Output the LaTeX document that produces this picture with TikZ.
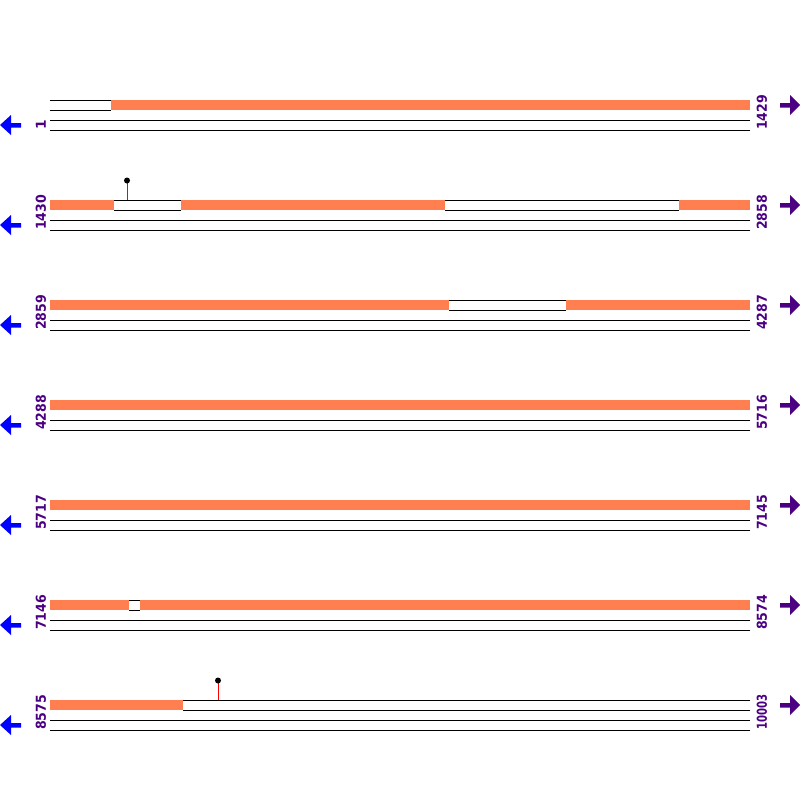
\documentclass[tikz,border=0pt]{standalone}
\usepackage{fontspec}
\setmainfont{DejaVu Sans}
\definecolor{seg}{HTML}{FF7F50}
\definecolor{lab}{HTML}{4B0082}
\definecolor{larr}{HTML}{0000FF}
\newcommand{\fitlab}[1]{\resizebox{35pt}{\height}{#1}}
\begin{document}
\begin{tikzpicture}[x=1pt,y=-1pt,
  orangebar/.style={fill=seg,draw=none},
  strand/.style={draw=black,line width=1pt},
  lbl/.style={rotate=90,anchor=west,text=lab,inner sep=0pt,font=\bfseries\fontsize{13.7}{13.7}\selectfont},
  leftarrow/.style={fill=larr,draw=none},
  rightarrow/.style={fill=lab,draw=none},
  stem/.style={draw=red,line width=0.9pt},
  pin/.style={fill=black,draw=none}]
\useasboundingbox (0,0) rectangle (800,800);
% rows
\foreach \r/\ll/\rl in {1/{1}/{\fitlab{1429}},2/{\fitlab{1430}}/{\fitlab{2858}},3/{\fitlab{2859}}/{\fitlab{4287}},4/{\fitlab{4288}}/{\fitlab{5716}},5/{\fitlab{5717}}/{\fitlab{7145}},6/{\fitlab{7146}}/{\fitlab{8574}},7/{\fitlab{8575}}/{\fitlab{10003}}}{
  \begin{scope}[yshift=-100*\r pt+100pt]
    \draw[strand] (50,120) -- (750,120);
    \draw[strand] (50,130) -- (750,130);
    \node[lbl] (L\r) at (41,130) {\ll};
    \node[lbl] (R\r) at (762,130) {\rl};
    \fill[leftarrow] (0,125) -- (11,115) -- (11,123) -- (21,123) -- (21,127.5) -- (11,127.5) -- (11,135) -- cycle;
    \fill[rightarrow] (800,105) -- (790,95) -- (790,103) -- (780,103) -- (780,107.5) -- (790,107.5) -- (790,115) -- cycle;
  \end{scope}
}
% row 1
\draw[strand] (50,100) -- (111,100) (50,110) -- (111,110);
\fill[orangebar] (111,100) rectangle (750,110);
% row 2
\fill[orangebar] (50,200) rectangle (114,210);
\draw[strand] (114,200) -- (181,200) (114,210) -- (181,210);
\fill[orangebar] (181,200) rectangle (445,210);
\draw[strand] (445,200) -- (679,200) (445,210) -- (679,210);
\fill[orangebar] (679,200) rectangle (750,210);
\draw[stem] (127,200) -- (127,182);
\fill[pin] (127,180.5) circle (3);
% row 3
\fill[orangebar] (50,300) rectangle (449,310);
\draw[strand] (449,300) -- (566,300) (449,310) -- (566,310);
\fill[orangebar] (566,300) rectangle (750,310);
% row 4
\fill[orangebar] (50,400) rectangle (750,410);
% row 5
\fill[orangebar] (50,500) rectangle (750,510);
% row 6
\fill[orangebar] (50,600) rectangle (129,610);
\draw[strand] (129,600) -- (140,600) (129,610) -- (140,610);
\fill[orangebar] (140,600) rectangle (750,610);
% row 7
\fill[orangebar] (50,700) rectangle (183,710);
\draw[strand] (183,700) -- (750,700);
\draw[strand] (183,710) -- (750,710);
\draw[stem] (218,700) -- (218,682);
\fill[pin] (218,680.5) circle (3);
\end{tikzpicture}
\end{document}
